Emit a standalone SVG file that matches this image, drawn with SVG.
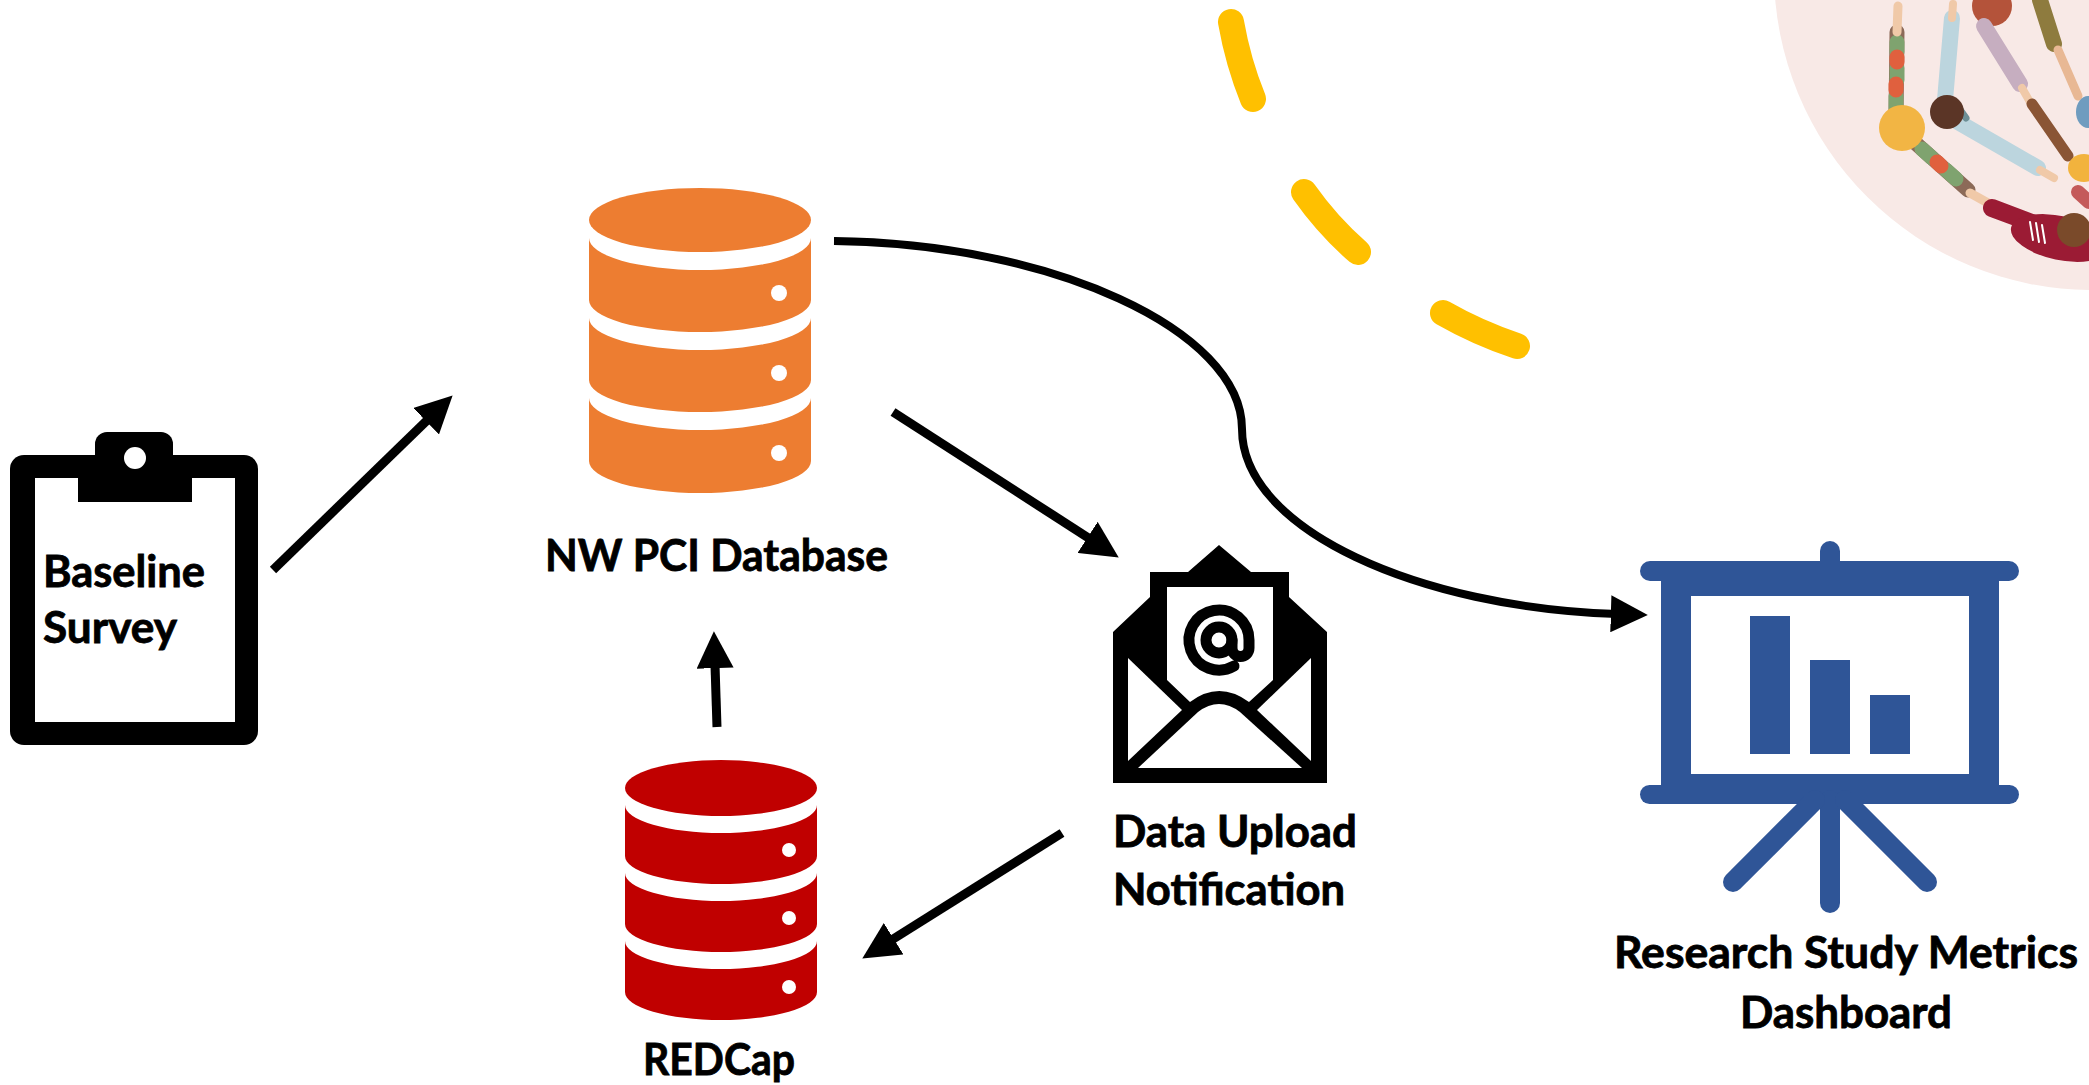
<svg xmlns="http://www.w3.org/2000/svg" width="2089" height="1085" viewBox="0 0 2089 1085">
  <style>
    .label { font-family: Lato, "Open Sans", "Liberation Sans", sans-serif; font-weight: 700; font-size: 43px; fill: #000; stroke: #000; stroke-width: 0.8px; }
    .conn { fill: none; stroke: #000; stroke-width: 9; }
    .dot { fill: #fff; }
    .db-orange { fill: #ED7D31; }
    .db-red { fill: #C00000; }
    .blue { fill: #2F5597; }
    .blue-line { stroke: #2F5597; stroke-width: 20; stroke-linecap: round; fill: none; }
    .sun { fill: none; stroke: #FFC000; stroke-width: 26; stroke-linecap: round; }
  </style>
  <defs>
    <marker id="head" markerUnits="userSpaceOnUse" markerWidth="37" markerHeight="37" refX="6" refY="18" orient="auto" viewBox="0 0 36 36">
      <path d="M0,0 L36,18 L0,36 Z" fill="#000"/>
    </marker>
    <clipPath id="circleClip">
      <circle cx="2092" cy="-28" r="318"/>
    </clipPath>
  </defs>

  <rect width="2089" height="1085" fill="#fff"/>

  <!-- decorative circle of people holding hands, top right -->
  <g id="people-circle">
    <circle cx="2092" cy="-28" r="318" fill="#F8E9E6"/>
    <g clip-path="url(#circleClip)" stroke-linecap="round" fill="none">
      <!-- patterned arm going up -->
      <path d="M1896,118 L1897,32" stroke="#8C6A58" stroke-width="15"/>
      <path d="M1896,110 L1896,96 M1897,80 L1897,68 M1897,52 L1897,42" stroke="#7FA36F" stroke-width="15"/>
      <path d="M1896,90 L1896,84 M1897,62 L1897,57" stroke="#E0603E" stroke-width="15"/>
      <path d="M1897,32 L1898,6" stroke="#F0C9A8" stroke-width="9"/>
      <!-- patterned arm going down-right -->
      <path d="M1912,140 L1968,190" stroke="#8C6A58" stroke-width="15"/>
      <path d="M1922,149 L1932,158 M1946,170 L1956,179" stroke="#7FA36F" stroke-width="15"/>
      <path d="M1937,162 L1941,166" stroke="#E0603E" stroke-width="15"/>
      <path d="M1970,193 L1988,203" stroke="#F0C9A8" stroke-width="9"/>
      <!-- maroon sweater figure -->
      <path d="M1992,208 L2040,226" stroke="#9B1B34" stroke-width="18"/>
      <ellipse cx="2060" cy="238" rx="50" ry="22" fill="#9B1B34" transform="rotate(12 2060 238)"/>
      <path d="M2030,222 L2033,240 M2036,223 L2039,242 M2042,225 L2045,243" stroke="#fff" stroke-width="2"/>
      <circle cx="2074" cy="230" r="17" fill="#7A4A2A"/>
      <!-- light blue shirt figure -->
      <path d="M1945,100 L1952,18" stroke="#BCD5DE" stroke-width="16"/>
      <path d="M1952,18 L1953,4" stroke="#F0C9A8" stroke-width="8"/>
      <path d="M1958,122 L2038,168" stroke="#BCD5DE" stroke-width="16"/>
      <path d="M2040,170 L2054,178" stroke="#F0C9A8" stroke-width="8"/>
      <path d="M1956,104 L1966,118" stroke="#6D8F96" stroke-width="7"/>
      <circle cx="1947" cy="112" r="17" fill="#5B3526"/>
      <!-- yellow haired head -->
      <circle cx="1902" cy="128" r="23" fill="#F2B544"/>
      <!-- red haired figure at top -->
      <circle cx="1992" cy="6" r="20" fill="#B4533A"/>
      <path d="M1984,26 L2020,84" stroke="#C6AEC0" stroke-width="16"/>
      <path d="M2022,88 L2030,102" stroke="#F0C9A8" stroke-width="8"/>
      <!-- dark skin arm and yellow sleeve -->
      <path d="M2032,104 L2068,156" stroke="#8A5535" stroke-width="11"/>
      <ellipse cx="2084" cy="168" rx="16" ry="14" fill="#F2B33D"/>
      <!-- olive sleeve and arm at top right -->
      <path d="M2040,0 L2054,44" stroke="#8E7B3E" stroke-width="16"/>
      <path d="M2058,50 L2078,96" stroke="#E8B894" stroke-width="9"/>
      <ellipse cx="2088" cy="112" rx="12" ry="16" fill="#6F9CBF"/>
      <!-- striped sleeve at right edge -->
      <path d="M2078,192 L2089,202" stroke="#C45A5A" stroke-width="14"/>
    </g>
  </g>

  <!-- yellow dashed arc -->
  <g id="sun-dashes">
    <path class="sun" d="M1231,22 Q1238,62 1253,99"/>
    <path class="sun" d="M1304,192 Q1328,226 1358,252"/>
    <path class="sun" d="M1443,313 Q1478,333 1517,346"/>
  </g>

  <!-- connectors -->
  <g id="connectors">
    <line class="conn" x1="273" y1="570" x2="430.5" y2="416.9" marker-end="url(#head)"/>
    <line class="conn" x1="893" y1="412" x2="1092.8" y2="540.7" marker-end="url(#head)"/>
    <line class="conn" x1="717" y1="727" x2="714.9" y2="662" marker-end="url(#head)"/>
    <line class="conn" x1="1062" y1="833" x2="888.4" y2="942" marker-end="url(#head)"/>
    <path class="conn" style="stroke-width:8" d="M834,241 C1050,243 1242,330 1242,429 C1242,530 1420,608 1617,614" marker-end="url(#head)"/>
  </g>

  <!-- Baseline Survey clipboard -->
  <g id="baseline-survey">
    <rect x="10" y="455" width="248" height="290" rx="14" fill="#000"/>
    <rect x="35" y="478" width="200" height="244" fill="#fff"/>
    <rect x="95" y="432" width="78" height="60" rx="12" fill="#000"/>
    <rect x="78" y="478" width="114" height="24" fill="#000"/>
    <circle cx="135" cy="458" r="11" fill="#fff"/>
    <text class="label" x="43" y="587" textLength="162" lengthAdjust="spacingAndGlyphs">Baseline</text>
    <text class="label" x="43" y="643" textLength="134" lengthAdjust="spacingAndGlyphs">Survey</text>
  </g>

  <!-- NW PCI Database -->
  <g id="nw-pci-database">
    <g class="db-orange">
      <ellipse cx="700" cy="220" rx="111" ry="32"/>
      <path d="M589,238 A111,32 0 0 0 811,238 V300 A111,32 0 0 1 589,300 Z"/>
      <path d="M589,318 A111,32 0 0 0 811,318 V380 A111,32 0 0 1 589,380 Z"/>
      <path d="M589,398 A111,32 0 0 0 811,398 V461 A111,32 0 0 1 589,461 Z"/>
    </g>
    <circle class="dot" cx="779" cy="293" r="8"/>
    <circle class="dot" cx="779" cy="373" r="8"/>
    <circle class="dot" cx="779" cy="453" r="8"/>
    <text class="label" x="545" y="571" textLength="343" lengthAdjust="spacingAndGlyphs">NW PCI Database</text>
  </g>

  <!-- REDCap -->
  <g id="redcap">
    <g class="db-red">
      <ellipse cx="721" cy="788" rx="96" ry="28"/>
      <path d="M625,805 A96,28 0 0 0 817,805 V856 A96,28 0 0 1 625,856 Z"/>
      <path d="M625,873 A96,28 0 0 0 817,873 V924 A96,28 0 0 1 625,924 Z"/>
      <path d="M625,941 A96,28 0 0 0 817,941 V992 A96,28 0 0 1 625,992 Z"/>
    </g>
    <circle class="dot" cx="789" cy="850" r="7"/>
    <circle class="dot" cx="789" cy="918" r="7"/>
    <circle class="dot" cx="789" cy="987" r="7"/>
    <text class="label" x="643" y="1075" textLength="152" lengthAdjust="spacingAndGlyphs">REDCap</text>
  </g>

  <!-- Data Upload Notification envelope -->
  <g id="data-upload-notification">
    <polygon points="1113,783 1113,632 1150,597 1150,572 1188,572 1219,545 1251,572 1289,572 1289,597 1327,632 1327,783" fill="#000"/>
    <path d="M1167,587 H1273 V680 L1249,702 Q1219,680 1190,702 L1167,680 Z" fill="#fff"/>
    <path d="M1138,768 L1198,712 Q1219,696 1240,712 L1302,768 Z" fill="#fff"/>
    <polygon points="1128,658 1128,761 1182,710" fill="#fff"/>
    <polygon points="1311,658 1311,761 1257,710" fill="#fff"/>
    <g fill="none" stroke="#000" stroke-width="11" stroke-linecap="round">
      <circle cx="1219" cy="640" r="13"/>
      <path d="M1234,666 A30,30 0 1 1 1249,640 V648 A8,8 0 0 1 1232,648 V640"/>
    </g>
    <text class="label" x="1113" y="847" textLength="244" lengthAdjust="spacingAndGlyphs">Data Upload</text>
    <text class="label" x="1113" y="905" textLength="232" lengthAdjust="spacingAndGlyphs">Notification</text>
  </g>

  <!-- Research Study Metrics Dashboard easel -->
  <g id="research-dashboard">
    <rect x="1820" y="541" width="20" height="30" rx="10" class="blue"/>
    <rect x="1661" y="561" width="338" height="243" class="blue"/>
    <rect x="1640" y="561" width="379" height="20" rx="10" class="blue"/>
    <rect x="1640" y="785" width="379" height="19" rx="9.5" class="blue"/>
    <rect x="1691" y="596" width="278" height="178" fill="#fff"/>
    <rect x="1750" y="616" width="40" height="138" class="blue"/>
    <rect x="1810" y="660" width="40" height="94" class="blue"/>
    <rect x="1870" y="695" width="40" height="59" class="blue"/>
    <line class="blue-line" x1="1830" y1="800" x2="1830" y2="903"/>
    <line class="blue-line" x1="1815" y1="800" x2="1733" y2="882"/>
    <line class="blue-line" x1="1845" y1="800" x2="1927" y2="882"/>
    <text class="label" x="1614" y="968" textLength="464" lengthAdjust="spacingAndGlyphs">Research Study Metrics</text>
    <text class="label" x="1740" y="1028" textLength="212" lengthAdjust="spacingAndGlyphs">Dashboard</text>
  </g>
</svg>
